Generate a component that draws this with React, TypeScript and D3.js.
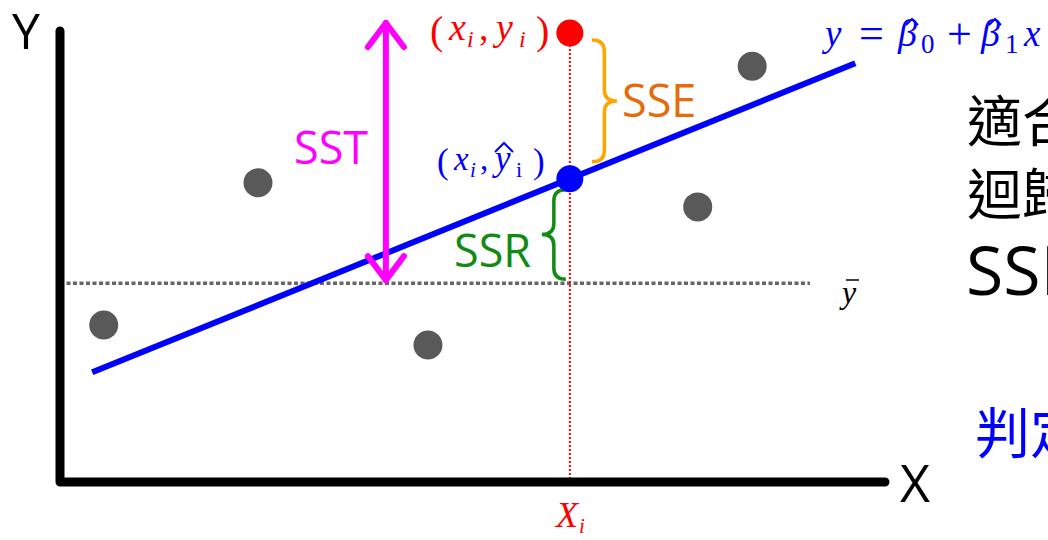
import React from "react";
import * as d3 from "d3";

// ---- data (in abstract data units) ----
const pointX = [5.3, 24.0, 44.6, 77.3, 83.9];
const pointY = [34.6, 65.9, 30.2, 60.6, 91.6];
const obsX = 61.8; // x_i
const obsY = 98.9; // y_i
const intercept = 21.3; // beta0 hat
const slope = 0.736; // beta1 hat
const lineXExtent = [3.9, 96.4];
const yBar = 43.8;
const yBarXExtent = [0, 90.9];
const sstX = 39.5;

const W = 1048;
const H = 540;

const x = d3.scaleLinear().domain([0, 100]).range([60, 885]);
const y = d3.scaleLinear().domain([0, 100]).range([482, 28]);

const fit = (v: number) => intercept + slope * v;

function bracePath(xEnd: number, xTip: number, yTop: number, yBot: number) {
  const xs = (xEnd + xTip) / 2;
  const ym = (yTop + yBot) / 2;
  const r = 11;
  return [
    `M${xEnd},${yTop}`,
    `Q${xs},${yTop} ${xs},${yTop + r}`,
    `L${xs},${ym - r}`,
    `Q${xs},${ym} ${xTip},${ym}`,
    `Q${xs},${ym} ${xs},${ym + r}`,
    `L${xs},${yBot - r}`,
    `Q${xs},${yBot} ${xEnd},${yBot}`,
  ].join(" ");
}

export default function App() {
  const xi = x(obsX);
  const yObs = y(obsY);
  const yHat = y(fit(obsX));
  const yMean = y(yBar);
  const lineGen = d3
    .line<number>()
    .x((d) => x(d))
    .y((d) => y(fit(d)));
  const sx = x(sstX);
  const sstTop = y(obsY) - 10;
  const sstBot = yMean - 3;
  const mathFont = "'Liberation Serif', 'DejaVu Serif', serif";
  const sans = "'Open Sans', 'Noto Sans', sans-serif";
  const cjk = "'Noto Sans CJK TC', 'Noto Sans', sans-serif";
  const red = "#ff0000";
  const blue = "#0000ff";

  return (
    <svg
      width={W}
      height={H}
      viewBox={`0 0 ${W} ${H}`}
      style={{ position: "fixed", left: 0, top: 0, background: "#fff" }}
    >
      {/* mean line */}
      <line
        x1={x(yBarXExtent[0])}
        x2={x(yBarXExtent[1])}
        y1={yMean}
        y2={yMean}
        stroke="#666"
        strokeWidth={3.5}
        strokeDasharray="4 2.5"
      />
      {/* vertical red dotted */}
      <line
        x1={xi}
        x2={xi}
        y1={yObs}
        y2={y(0)}
        stroke={red}
        strokeWidth={2}
        strokeDasharray="2 2"
      />
      {/* axes */}
      <path
        d={`M${x(0)},${31} L${x(0)},${y(0)} L${x(100)},${y(0)}`}
        fill="none"
        stroke="#000"
        strokeWidth={9}
        strokeLinecap="round"
        strokeLinejoin="round"
      />
      <text x={12} y={49} fontFamily={sans} fontSize={50} fill="#000">Y</text>
      <text x={900} y={502} fontFamily={sans} fontSize={52} fill="#000">X</text>

      {/* regression line */}
      <path d={lineGen(lineXExtent) || ""} fill="none" stroke={blue} strokeWidth={6} />

      {/* gray points */}
      {pointX.map((px, i) => (
        <circle key={i} cx={x(px)} cy={y(pointY[i])} r={14.5} fill="#595959" />
      ))}

      {/* SST arrow */}
      <g stroke="#ff00ff" strokeWidth={6} fill="none" strokeLinecap="round" strokeLinejoin="round">
        <line x1={sx} x2={sx} y1={sstTop} y2={sstBot} />
        <path d={`M${sx - 18},${sstTop + 24} L${sx},${sstTop} L${sx + 18},${sstTop + 24}`} />
        <path d={`M${sx - 18},${sstBot - 24} L${sx},${sstBot} L${sx + 18},${sstBot - 24}`} />
      </g>
      <text x={294} y={164} fontFamily={sans} fontSize={45} fill="#ff00ff">SST</text>

      {/* SSE brace */}
      <path
        d={bracePath(xi + 22, xi + 47, yObs + 7, yHat - 17)}
        fill="none"
        stroke="#ffa500"
        strokeWidth={3.5}
      />
      <text x={622} y={117} fontFamily={sans} fontSize={45} fill="#e46c0a">SSE</text>

      {/* SSR brace */}
      <path
        d={bracePath(xi - 4, xi - 28, yHat + 11, yMean - 4)}
        fill="none"
        stroke="#138a13"
        strokeWidth={3.5}
      />
      <text x={454} y={267} fontFamily={sans} fontSize={45} fill="#138a13">SSR</text>

      {/* points of interest */}
      <circle cx={xi} cy={yObs} r={13.5} fill={red} />
      <circle cx={xi} cy={yHat} r={13.5} fill={blue} />

      {/* (x_i, y_i) */}
      <g fontFamily={mathFont} fill={red}>
        <text x={430} y={44} fontSize={40}>(</text>
        <text x={449} y={40} fontSize={38} fontStyle="italic">x</text>
        <text x={467} y={47} fontSize={24} fontStyle="italic">i</text>
        <text x={479} y={40} fontSize={38}>,</text>
        <text x={496} y={40} fontSize={38} fontStyle="italic">y</text>
        <text x={519} y={47} fontSize={24} fontStyle="italic">i</text>
        <text x={536} y={44} fontSize={40}>)</text>
      </g>

      {/* (x_i, ŷ_i) */}
      <g fontFamily={mathFont} fill={blue}>
        <text x={437} y={173} fontSize={35}>(</text>
        <text x={454} y={170} fontSize={33} fontStyle="italic">x</text>
        <text x={470} y={177} fontSize={21} fontStyle="italic">i</text>
        <text x={480} y={170} fontSize={33}>,</text>
        <text x={495} y={170} fontSize={35} fontStyle="italic">y</text>
        <text x={516} y={177} fontSize={22}>i</text>
        <text x={533} y={173} fontSize={35}>)</text>
        <path d="M495,152 L504,143 L513,152" fill="none" stroke={blue} strokeWidth={2} />
      </g>

      {/* equation */}
      <g fontFamily={mathFont} fill={blue}>
        <text x={825} y={46} fontSize={37} fontStyle="italic">y</text>
        <text x={859} y={48} fontSize={44}>=</text>
        <text x={898} y={46} fontSize={38} fontStyle="italic">β</text>
        <text x={921} y={53} fontSize={27}>0</text>
        <text x={947} y={49} fontSize={44}>+</text>
        <text x={981} y={46} fontSize={38} fontStyle="italic">β</text>
        <text x={1005} y={53} fontSize={27}>1</text>
        <text x={1024} y={46} fontSize={37} fontStyle="italic">x</text>
        <path d="M906,25 L912,19 L918,25" fill="none" stroke={blue} strokeWidth={2} />
        <path d="M989,25 L995,19 L1001,25" fill="none" stroke={blue} strokeWidth={2} />
      </g>

      {/* y bar */}
      <text x={842} y={303} fontFamily={mathFont} fontSize={32} fontStyle="italic" fill="#000">y</text>
      <line x1={846} x2={859} y1={280} y2={280} stroke="#000" strokeWidth={1.5} />

      {/* X_i */}
      <g fontFamily={mathFont} fontStyle="italic" fill={red}>
        <text x={556} y={527} fontSize={36}>X</text>
        <text x={579} y={533} fontSize={21}>i</text>
      </g>

      {/* right-hand text (clipped by the frame, as in the reference) */}
      <text x={967} y={141} fontFamily={cjk} fontSize={55} fill="#000">適合度</text>
      <text x={967} y={214} fontFamily={cjk} fontSize={55} fill="#000">迴歸線</text>
      <text x={966} y={295} fontFamily={sans} fontSize={68} fill="#000">SSR</text>
      <text x={975} y={453} fontFamily={cjk} fontSize={55} fill={blue}>判定係數</text>
    </svg>
  );
}
